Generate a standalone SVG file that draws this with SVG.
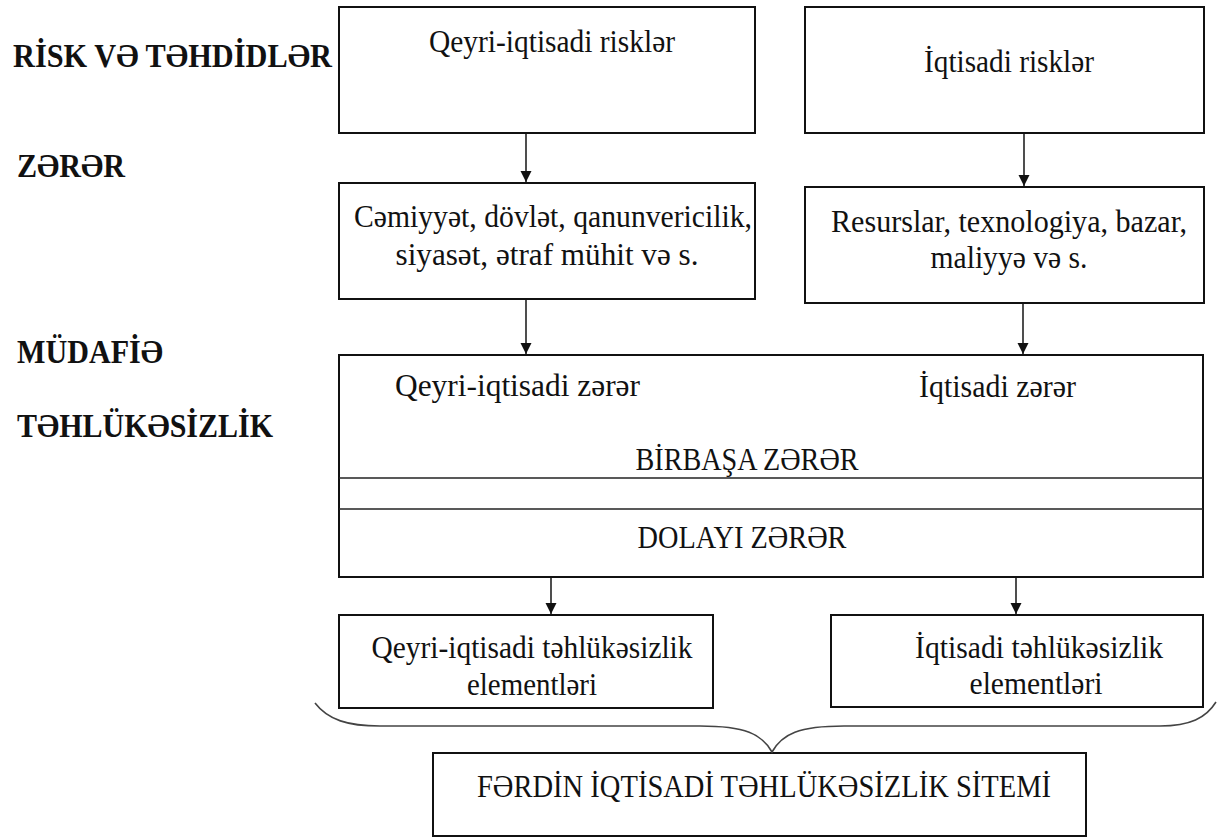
<svg xmlns="http://www.w3.org/2000/svg" width="1222" height="839" viewBox="0 0 1222 839">
<style>
.lbl{font-family:"Liberation Serif","DejaVu Serif",serif;font-weight:bold;font-size:33px;fill:#111}
.t{font-family:"Liberation Serif","DejaVu Serif",serif;font-size:32px;fill:#111}
.c{text-anchor:middle}
.box{fill:#fff;stroke:#111;stroke-width:2}
.ln{stroke:#222;stroke-width:1.6;fill:none}
</style>
<defs>
<marker id="ah" viewBox="0 0 11 15" refX="11" refY="7.5" markerWidth="11" markerHeight="15" markerUnits="userSpaceOnUse" orient="auto">
<path d="M0,2 L11,7.5 L0,13 Z" fill="#111"/>
</marker>
</defs>
<rect width="1222" height="839" fill="#fff"/>
<g id="labels">
<text class="lbl" x="13" y="67" textLength="319" lengthAdjust="spacingAndGlyphs">RİSK VƏ TƏHDİDLƏR</text>
<text class="lbl" x="17" y="177" textLength="108" lengthAdjust="spacingAndGlyphs">ZƏRƏR</text>
<text class="lbl" x="17" y="363" textLength="146" lengthAdjust="spacingAndGlyphs">MÜDAFİƏ</text>
<text class="lbl" x="17" y="437" textLength="256" lengthAdjust="spacingAndGlyphs">TƏHLÜKƏSİZLİK</text>
</g>
<g id="n1"><rect class="box" x="339" y="7" width="416" height="126"/><text class="t c" x="552" y="52" textLength="246" lengthAdjust="spacingAndGlyphs">Qeyri-iqtisadi risklər</text></g>
<g id="n2"><rect class="box" x="805" y="7" width="399" height="126"/><text class="t c" x="1009" y="72" textLength="170" lengthAdjust="spacingAndGlyphs">İqtisadi risklər</text></g>
<g id="n3"><rect class="box" x="339" y="183" width="416" height="116"/><text class="t c" x="553" y="227" textLength="398" lengthAdjust="spacingAndGlyphs">Cəmiyyət, dövlət, qanunvericilik,</text><text class="t c" x="547" y="265" textLength="303" lengthAdjust="spacingAndGlyphs">siyasət, ətraf mühit və s.</text></g>
<g id="n4"><rect class="box" x="805" y="187" width="399" height="116"/><text class="t c" x="1009" y="232" textLength="356" lengthAdjust="spacingAndGlyphs">Resurslar, texnologiya, bazar,</text><text class="t c" x="1009" y="268" textLength="157" lengthAdjust="spacingAndGlyphs">maliyyə və s.</text></g>
<g id="n5"><rect class="box" x="339" y="355" width="864" height="222"/><line class="ln" x1="339" y1="478" x2="1203" y2="478"/><line class="ln" x1="339" y1="509" x2="1203" y2="509"/>
<text class="t" x="395" y="396" textLength="245" lengthAdjust="spacingAndGlyphs">Qeyri-iqtisadi zərər</text>
<text class="t" x="919" y="397" textLength="157" lengthAdjust="spacingAndGlyphs">İqtisadi zərər</text>
<text class="t c" x="747" y="470" textLength="223" lengthAdjust="spacingAndGlyphs">BİRBAŞA ZƏRƏR</text>
<text class="t c" x="742" y="548" textLength="209" lengthAdjust="spacingAndGlyphs">DOLAYI ZƏRƏR</text></g>
<g id="n6"><rect class="box" x="339" y="615" width="374" height="93"/><text class="t c" x="532" y="658" textLength="321" lengthAdjust="spacingAndGlyphs">Qeyri-iqtisadi təhlükəsizlik</text><text class="t c" x="532" y="695" textLength="130" lengthAdjust="spacingAndGlyphs">elementləri</text></g>
<g id="n7"><rect class="box" x="831" y="615" width="372" height="92"/><text class="t c" x="1039" y="658" textLength="248" lengthAdjust="spacingAndGlyphs">İqtisadi təhlükəsizlik</text><text class="t c" x="1036" y="694" textLength="133" lengthAdjust="spacingAndGlyphs">elementləri</text></g>
<g id="n8"><rect class="box" x="433" y="753" width="653" height="83"/><text class="t c" x="764" y="797" textLength="574" lengthAdjust="spacingAndGlyphs">FƏRDİN İQTİSADİ TƏHLÜKƏSİZLİK SİTEMİ</text></g>
<g id="connectors">
<line class="ln" x1="526" y1="134" x2="526" y2="182" marker-end="url(#ah)"/>
<line class="ln" x1="1024" y1="134" x2="1024" y2="186" marker-end="url(#ah)"/>
<line class="ln" x1="526" y1="300" x2="526" y2="354" marker-end="url(#ah)"/>
<line class="ln" x1="1023" y1="304" x2="1023" y2="354" marker-end="url(#ah)"/>
<line class="ln" x1="551" y1="578" x2="551" y2="614" marker-end="url(#ah)"/>
<line class="ln" x1="1016" y1="578" x2="1016" y2="614" marker-end="url(#ah)"/>
<path d="M315,703 C328,720 348,726 380,726 L700,726 C745,726 762,734 772,752 C782,734 799,726 844,726 L1160,726 C1190,726 1206,718 1216,702" fill="none" stroke="#444" stroke-width="1.6"/>
</g>
</svg>
